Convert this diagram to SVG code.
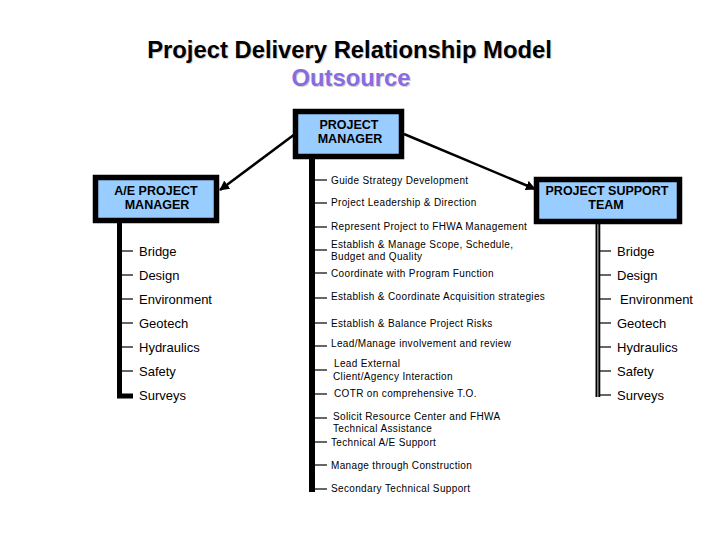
<svg xmlns="http://www.w3.org/2000/svg" width="720" height="540" viewBox="0 0 720 540">
<defs>
<marker id="ah" viewBox="0 0 10 10" refX="9" refY="5" markerWidth="4" markerHeight="4" orient="auto" markerUnits="strokeWidth">
<path d="M0,0 L10,5 L0,10 z" fill="#000"/>
</marker>
<style>
.box{fill:#99ccff;stroke:#000;stroke-width:5.5}
.bt{font-family:"Liberation Sans",Arial,sans-serif;font-weight:bold;font-size:12.5px;text-anchor:middle;fill:#000}
.big{font-family:"Liberation Sans",Arial,sans-serif;font-size:13px;fill:#000}
.sm{font-family:"Liberation Sans",Arial,sans-serif;font-size:10px;letter-spacing:0.35px;fill:#000}
.tick{stroke:#000;stroke-width:1.2}
.bar{stroke:#000;fill:none}
.title{font-family:"Liberation Sans",Arial,sans-serif;font-weight:bold;font-size:23.8px;text-anchor:middle}
</style>
</defs>
<rect width="720" height="540" fill="#fff"/>
<g id="title">
<text class="title" x="350.5" y="58.5" fill="#d0d0d0">Project Delivery Relationship Model</text>
<text class="title" x="349.5" y="57.5" fill="#000">Project Delivery Relationship Model</text>
<text class="title" x="352" y="87" fill="#d0d0d0">Outsource</text>
<text class="title" x="351" y="86" fill="#8a6be0">Outsource</text>
</g>
<g id="connectors">
<line x1="295" y1="134" x2="220" y2="190" stroke="#000" stroke-width="2.5" marker-end="url(#ah)"/>
<line x1="404" y1="134" x2="535" y2="189" stroke="#000" stroke-width="2.5" marker-end="url(#ah)"/>
<line class="bar" x1="312" y1="158" x2="312" y2="492" stroke-width="6"/>
<polyline class="bar" points="119.5,222 119.5,396 133,396" stroke-width="5"/>
<line class="bar" x1="596.5" y1="223" x2="596.5" y2="397" stroke-width="2"/>
<line class="bar" x1="599.3" y1="223" x2="599.3" y2="397" stroke-width="2"/>
</g>
<g id="pm">
<rect class="box" x="295.5" y="111.5" width="106" height="45"/>
<text class="bt" x="349" y="129">PROJECT</text>
<text class="bt" x="350" y="143">MANAGER</text>
</g>
<g id="ae">
<rect class="box" x="95.5" y="177.5" width="121" height="43"/>
<text class="bt" x="156" y="195">A/E PROJECT</text>
<text class="bt" x="157" y="209">MANAGER</text>
</g>
<g id="pst">
<rect class="box" x="536.5" y="179.5" width="143" height="42"/>
<text class="bt" x="607" y="195">PROJECT SUPPORT</text>
<text class="bt" x="606" y="209">TEAM</text>
</g>
<g id="ae-items">
<line class="tick" x1="122" y1="251" x2="133" y2="251"/><text class="big" x="139" y="255.5">Bridge</text>
<line class="tick" x1="122" y1="275" x2="133" y2="275"/><text class="big" x="139" y="279.5">Design</text>
<line class="tick" x1="122" y1="299" x2="133" y2="299"/><text class="big" x="139" y="303.5">Environment</text>
<line class="tick" x1="122" y1="323" x2="133" y2="323"/><text class="big" x="139" y="327.5">Geotech</text>
<line class="tick" x1="122" y1="347" x2="133" y2="347"/><text class="big" x="139" y="351.5">Hydraulics</text>
<line class="tick" x1="122" y1="371" x2="133" y2="371"/><text class="big" x="139" y="375.5">Safety</text>
<text class="big" x="139" y="399.5">Surveys</text>
</g>
<g id="pst-items">
<line class="tick" x1="600" y1="251" x2="611" y2="251"/><text class="big" x="617" y="255.5">Bridge</text>
<line class="tick" x1="600" y1="275" x2="611" y2="275"/><text class="big" x="617" y="279.5">Design</text>
<line class="tick" x1="600" y1="299" x2="611" y2="299"/><text class="big" x="620" y="304">Environment</text>
<line class="tick" x1="600" y1="323" x2="611" y2="323"/><text class="big" x="617" y="327.5">Geotech</text>
<line class="tick" x1="600" y1="347" x2="611" y2="347"/><text class="big" x="617" y="351.5">Hydraulics</text>
<line class="tick" x1="600" y1="371" x2="611" y2="371"/><text class="big" x="617" y="375.5">Safety</text>
<line class="tick" x1="600" y1="395" x2="611" y2="395"/><text class="big" x="617" y="399.5">Surveys</text>
</g>
<g id="pm-items">
<line class="tick" x1="315" y1="180" x2="327" y2="180"/><text class="sm" x="331" y="183.5">Guide Strategy Development</text>
<line class="tick" x1="315" y1="203" x2="327" y2="203"/><text class="sm" x="331" y="206">Project Leadership &amp; Direction</text>
<line class="tick" x1="315" y1="227" x2="327" y2="227"/><text class="sm" x="331" y="230">Represent Project to FHWA Management</text>
<line class="tick" x1="315" y1="250" x2="327" y2="250"/><text class="sm" x="331" y="248">Establish &amp; Manage Scope, Schedule,</text><text class="sm" x="331" y="260">Budget and Quality</text>
<line class="tick" x1="315" y1="273" x2="327" y2="273"/><text class="sm" x="331" y="277">Coordinate with Program Function</text>
<line class="tick" x1="315" y1="298" x2="327" y2="298"/><text class="sm" x="331" y="300">Establish &amp; Coordinate Acquisition strategies</text>
<line class="tick" x1="315" y1="323" x2="327" y2="323"/><text class="sm" x="331" y="327">Establish &amp; Balance Project Risks</text>
<line class="tick" x1="315" y1="346" x2="327" y2="346"/><text class="sm" x="331" y="347">Lead/Manage involvement and review</text>
<line class="tick" x1="315" y1="370" x2="327" y2="370"/><text class="sm" x="334" y="367">Lead External</text><text class="sm" x="333" y="380">Client/Agency Interaction</text>
<line class="tick" x1="315" y1="394" x2="327" y2="394"/><text class="sm" x="334" y="397">COTR on comprehensive T.O.</text>
<line class="tick" x1="315" y1="418" x2="327" y2="418"/><text class="sm" x="333" y="420">Solicit Resource Center and FHWA</text><text class="sm" x="333" y="432">Technical Assistance</text>
<line class="tick" x1="315" y1="442" x2="327" y2="442"/><text class="sm" x="331" y="446">Technical A/E Support</text>
<line class="tick" x1="315" y1="465" x2="327" y2="465"/><text class="sm" x="331" y="469">Manage through Construction</text>
<line class="tick" x1="315" y1="489" x2="327" y2="489"/><text class="sm" x="331" y="492">Secondary Technical Support</text>
</g>
</svg>
